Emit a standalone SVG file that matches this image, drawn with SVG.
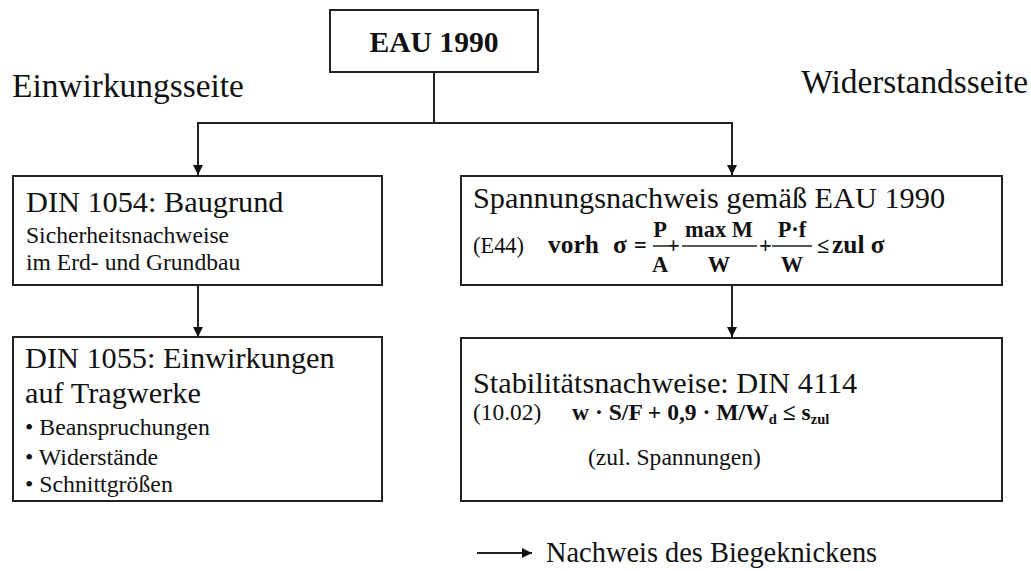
<svg xmlns="http://www.w3.org/2000/svg" width="1031" height="571" viewBox="0 0 1031 571">
<style>
.box{fill:#fff;stroke:#222;stroke-width:2}
.ln{fill:none;stroke:#222;stroke-width:2}
.fl{stroke:#222;stroke-width:1.5}
text{font-family:"Liberation Serif","Times New Roman",serif;fill:#111}
.b{font-weight:bold}
.h{font-size:30.3px}
.s{font-size:23.8px}
.f{font-size:22.4px;font-weight:bold}
.m{text-anchor:middle}
</style>
<defs>
<marker id="ah" viewBox="0 0 10 10" refX="10" refY="5" markerWidth="10" markerHeight="10" markerUnits="userSpaceOnUse" orient="auto">
<path d="M0,0 L10,5 L0,10 z" fill="#111"/>
</marker>
</defs>
<g id="connectors">
<path class="ln" d="M434,72 V123 H732 V175" marker-end="url(#ah)"/>
<path class="ln" d="M434,123 H198 V175" marker-end="url(#ah)"/>
<path class="ln" d="M198,285 V337" marker-end="url(#ah)"/>
<path class="ln" d="M732,285 V337" marker-end="url(#ah)"/>
<path class="ln" d="M477,553 H532" marker-end="url(#ah)"/>
</g>
<g id="side-labels">
<text x="12" y="97" style="font-size:33.4px">Einwirkungsseite</text>
<text x="1028" y="93" style="font-size:33.4px;text-anchor:end">Widerstandsseite</text>
</g>
<g id="eau">
<rect class="box" x="330" y="10" width="208" height="62"/>
<text class="b m" x="434" y="52" style="font-size:29.6px">EAU 1990</text>
</g>
<g id="din1054">
<rect class="box" x="13" y="176" width="369" height="109"/>
<text class="h" x="26" y="212">DIN 1054: Baugrund</text>
<text x="26" y="243" style="font-size:23.6px">Sicherheitsnachweise</text>
<text x="26" y="270" style="font-size:23.6px">im Erd- und Grundbau</text>
</g>
<g id="din1055">
<rect class="box" x="13" y="337" width="369" height="164"/>
<text class="h" x="25" y="368">DIN 1055: Einwirkungen</text>
<text class="h" x="25" y="403">auf Tragwerke</text>
<text class="s" x="25" y="435">• Beanspruchungen</text>
<text class="s" x="25" y="465">• Widerstände</text>
<text class="s" x="25" y="492">• Schnittgrößen</text>
</g>
<g id="spannung">
<rect class="box" x="461" y="176" width="541" height="109"/>
<text class="h" x="473" y="208">Spannungsnachweis gemäß EAU 1990</text>
<text x="473" y="253" style="font-size:22.4px">(E44)</text>
<text class="f" x="548" y="253" style="font-size:25.4px">vorh</text>
<text class="f" x="613" y="253" style="font-size:25.4px">σ</text>
<text class="f" x="634" y="253">=</text>
<text class="f m" x="660" y="237">P</text>
<line class="fl" x1="653" y1="246" x2="668" y2="246"/>
<text class="f m" x="660" y="272">A</text>
<text class="f" x="667" y="253">+</text>
<text class="f m" x="719" y="237">max M</text>
<line class="fl" x1="682" y1="246" x2="757" y2="246"/>
<text class="f m" x="719" y="272">W</text>
<text class="f" x="759" y="253">+</text>
<text class="f m" x="792" y="237">P·f</text>
<line class="fl" x1="772" y1="246" x2="812" y2="246"/>
<text class="f m" x="792" y="272">W</text>
<text class="f" x="817" y="253">≤</text>
<text class="f" x="832" y="253" style="font-size:25.4px">zul σ</text>
</g>
<g id="stabilitaet">
<rect class="box" x="461" y="338" width="541" height="163"/>
<text class="h" x="473" y="393">Stabilitätsnachweise: DIN 4114</text>
<text x="473" y="420" style="font-size:23.4px">(10.02)</text>
<text class="f" x="572" y="420" style="font-size:23.6px">w · S/F + 0,9 · M/W<tspan dy="4" style="font-size:14.5px">d</tspan><tspan dy="-4"> ≤ s</tspan><tspan dy="4" style="font-size:14.5px">zul</tspan></text>
<text x="588" y="465" style="font-size:23.6px">(zul. Spannungen)</text>
</g>
<g id="biegeknicken">
<text x="546" y="562" style="font-size:28.4px">Nachweis des Biegeknickens</text>
</g>
</svg>
